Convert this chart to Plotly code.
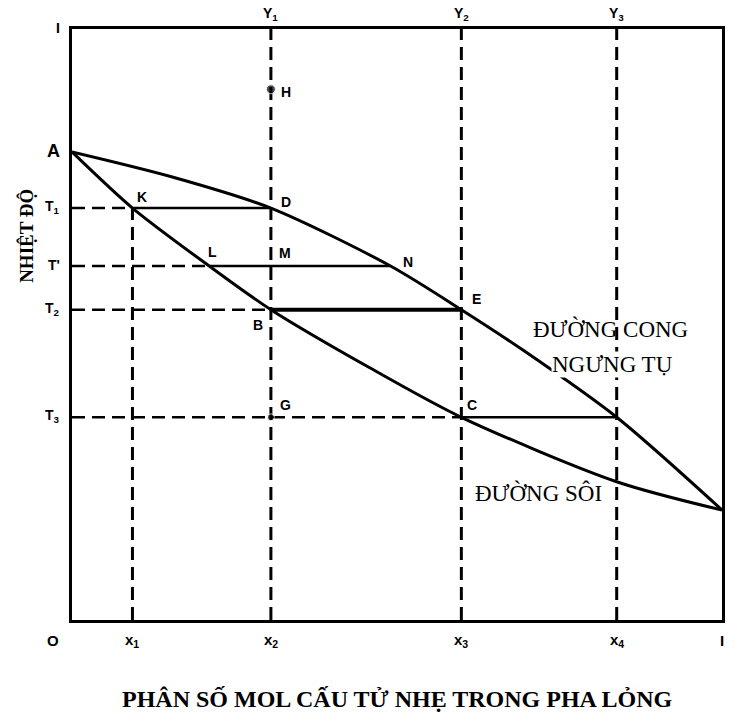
import plotly.graph_objects as go

# Mole fractions of the light component
x1, x2, x3, x4 = 0.093, 0.306, 0.599, 0.838
x_L, x_N = 0.211, 0.490

# Temperature levels (relative scale, bottom of frame = 0, top = 1)
T_A, T1, T_prime, T2, T3 = 0.792, 0.697, 0.599, 0.525, 0.343
T_H = 0.898
T_pure_light = 0.186

# Boiling curve (liquid) and condensation curve (vapour)
boil_x = [0.0, x1, x_L, x2, 0.456, x3, x4, 1.0]
boil_T = [T_A, T1, T_prime, T2, 0.428, T3, 0.234, T_pure_light]
dew_x = [0.0, 0.153, x2, x_N, x3, 0.696, x4, 1.0]
dew_T = [T_A, 0.750, T1, T_prime, T2, 0.455, T3, T_pure_light]

bottom_labels = ["O", "x<sub>1</sub>", "x<sub>2</sub>", "x<sub>3</sub>", "x<sub>4</sub>", "I"]
bottom_pos = [0.0, x1, x2, x3, x4, 1.0]
top_labels = ["Y<sub>1</sub>", "Y<sub>2</sub>", "Y<sub>3</sub>"]
top_pos = [x2, x3, x4]
left_labels = ["I", "A", "T<sub>1</sub>", "T'", "T<sub>2</sub>", "T<sub>3</sub>"]
left_pos = [1.0, T_A, T1, T_prime, T2, T3]

BLACK = "#000000"
DASH = "13px,7px"

fig = go.Figure()

# vertical dashed composition lines
vx, vy = [], []
for xv, top in [(x1, T1), (x2, 1.0), (x3, 1.0), (x4, 1.0)]:
    vx += [xv, xv, None]
    vy += [0.0, top, None]
fig.add_trace(go.Scatter(x=vx, y=vy, mode="lines",
                         line=dict(color=BLACK, width=3, dash=DASH),
                         hoverinfo="skip", cliponaxis=False))

# horizontal dashed temperature lines from the axis
hx, hy = [], []
for xe, tv in [(x1, T1), (x_L, T_prime), (x2, T2), (x3, T3)]:
    hx += [0.0, xe, None]
    hy += [tv, tv, None]
fig.add_trace(go.Scatter(x=hx, y=hy, mode="lines",
                         line=dict(color=BLACK, width=2.5, dash=DASH),
                         hoverinfo="skip"))

# tie lines
tx, ty = [], []
for xa, xb, tv in [(x1, x2, T1), (x_L, x_N, T_prime), (x3, x4, T3)]:
    tx += [xa, xb, None]
    ty += [tv, tv, None]
fig.add_trace(go.Scatter(x=tx, y=ty, mode="lines",
                         line=dict(color=BLACK, width=2.5), hoverinfo="skip"))
fig.add_trace(go.Scatter(x=[x2, x3], y=[T2, T2], mode="lines",
                         line=dict(color=BLACK, width=4), hoverinfo="skip"))

# equilibrium curves
fig.add_trace(go.Scatter(x=boil_x, y=boil_T, mode="lines",
                         line=dict(color=BLACK, width=3, shape="spline", smoothing=0.8),
                         hoverinfo="skip", cliponaxis=False))
fig.add_trace(go.Scatter(x=dew_x, y=dew_T, mode="lines",
                         line=dict(color=BLACK, width=3, shape="spline", smoothing=0.8),
                         hoverinfo="skip", cliponaxis=False))

# state points H and G
fig.add_trace(go.Scatter(x=[x2, x2], y=[T_H, T3], mode="markers",
                         marker=dict(color=BLACK, size=[9, 7]), hoverinfo="skip"))

ann = []
lbl_font = dict(family="Liberation Sans", size=14, color=BLACK)

# point labels: (text, x, y, xanchor, xshift, yshift)
points = [
    ("H", x2, T_H, "left", 8, -3),
    ("K", x1, T1, "left", 3, 11),
    ("D", x2, T1, "left", 8, 6),
    ("L", x_L, T_prime, "center", 3, 14),
    ("M", x2, T_prime, "left", 6, 13),
    ("N", x_N, T_prime, "left", 10, 4),
    ("E", x3, T2, "left", 9, 11),
    ("B", x2, T2, "center", -13, -15),
    ("G", x2, T3, "left", 7, 12),
    ("C", x3, T3, "left", 4, 12),
]
for t, xv, yv, xa, xs, ys in points:
    ann.append(dict(text="<b>%s</b>" % t, x=xv, y=yv, xref="x", yref="y",
                    xanchor=xa, yanchor="middle", xshift=xs, yshift=ys,
                    showarrow=False, font=lbl_font))

for t, xv in zip(bottom_labels, bottom_pos):
    xs = -19 if t == "O" else 0
    ann.append(dict(text="<b>%s</b>" % t, x=xv, y=0, xref="x", yref="y",
                    xanchor="center", yanchor="middle", xshift=xs, yshift=-20,
                    showarrow=False, font=dict(family="Liberation Sans", size=15, color=BLACK)))

for t, xv in zip(top_labels, top_pos):
    ann.append(dict(text="<b>%s</b>" % t, x=xv, y=1, xref="x", yref="y",
                    xanchor="center", yanchor="middle", yshift=15,
                    showarrow=False, font=dict(family="Liberation Sans", size=14, color=BLACK)))

for t, yv in zip(left_labels, left_pos):
    size = 18 if t == "A" else 14
    ann.append(dict(text="<b>%s</b>" % t, x=0, y=yv, xref="x", yref="y",
                    xanchor="right", yanchor="middle", xshift=-10, yshift=1,
                    showarrow=False, font=dict(family="Liberation Sans", size=size, color=BLACK)))

curve_font = dict(family="Liberation Serif", size=23, color=BLACK)
ann.append(dict(text="ĐƯỜNG CONG", x=0.829, y=0.492, xref="x", yref="y",
                showarrow=False, font=curve_font))
ann.append(dict(text="NGƯNG TỤ", x=0.832, y=0.432, xref="x", yref="y",
                showarrow=False, font=curve_font, bgcolor="white", borderpad=0))
ann.append(dict(text="ĐƯỜNG SÔI", x=0.718, y=0.215, xref="x", yref="y",
                showarrow=False, font=curve_font))

ann.append(dict(text="<b>PHÂN SỐ MOL CẤU TỬ NHẸ TRONG PHA LỎNG</b>",
                x=0.5, y=0, xref="paper", yref="paper", yshift=-79,
                xanchor="center", yanchor="middle", showarrow=False,
                font=dict(family="Liberation Serif", size=24, color=BLACK)))
ann.append(dict(text="<b>NHIỆT ĐỘ</b>", x=0, y=0.650, xref="paper", yref="paper",
                xshift=-45, textangle=-90, xanchor="center", yanchor="middle",
                showarrow=False, font=dict(family="Liberation Serif", size=19, color=BLACK)))

axis_style = dict(range=[0, 1], showline=True, mirror=True, linewidth=3,
                  linecolor=BLACK, showgrid=False, zeroline=False,
                  showticklabels=False, ticks="", fixedrange=True)

fig.update_layout(
    width=734, height=715,
    margin=dict(l=72, r=9, t=29, b=95),
    paper_bgcolor="white", plot_bgcolor="white",
    showlegend=False,
    xaxis=axis_style, yaxis=axis_style,
    annotations=ann,
)

fig.write_html("out.html")
